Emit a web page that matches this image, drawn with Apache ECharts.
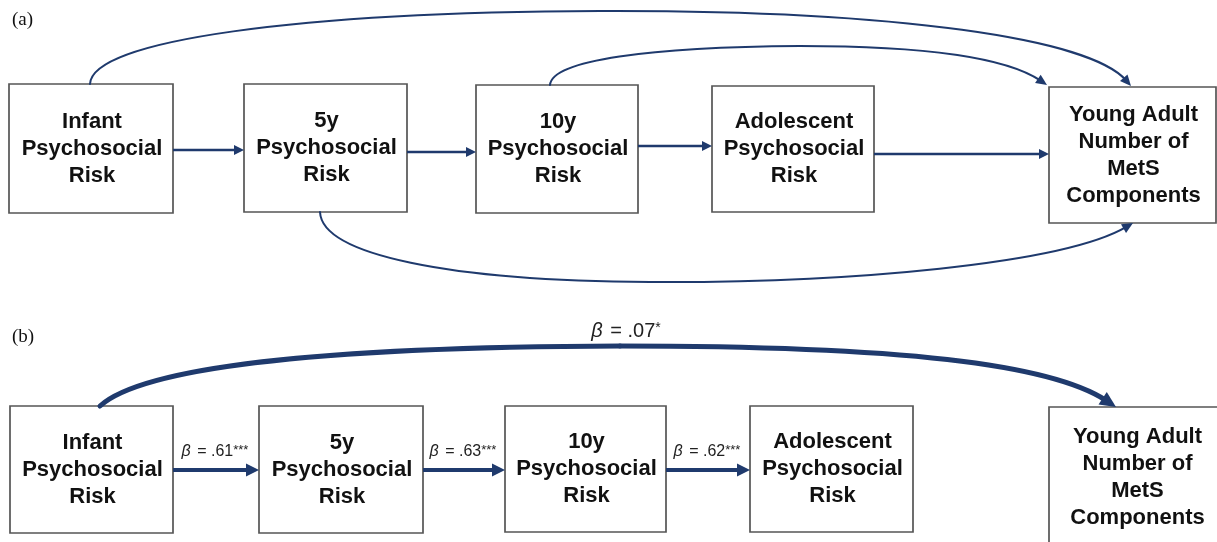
<!DOCTYPE html>
<html>
<head>
<meta charset="utf-8">
<script src="https://cdn.jsdelivr.net/npm/echarts@6/dist/echarts.min.js"></script>
<style>
  html, body { margin: 0; padding: 0; background: #fff; }
  #chart { width: 1217px; height: 542px; }
</style>
</head>
<body>
<div id="chart"></div>
<script>
// ---- data ----
const panelLabels = ['(a)', '(b)'];
const nodeLabels = [
  'Infant\nPsychosocial\nRisk',
  '5y\nPsychosocial\nRisk',
  '10y\nPsychosocial\nRisk',
  'Adolescent\nPsychosocial\nRisk',
  'Young Adult\nNumber of\nMetS\nComponents'
];
const pathBetas = ['.61', '.63', '.62'];
const pathStars = ['***', '***', '***'];
const directBeta = '.07';
const directStars = '*';

// ---- layout (diagram coordinates, 0..1217 x 0..542, y down) ----
const boxesA = [[9, 84, 173, 213], [244, 84, 407, 212], [476, 85, 638, 213], [712, 86, 874, 212], [1049, 87, 1216, 223]];
const boxesB = [[10, 406, 173, 533], [259, 406, 423, 533], [505, 406, 666, 532], [750, 406, 913, 532], [1049, 407, 1224, 547]];
const straightA = [[173, 150, 244, 150], [407, 152, 476, 152], [638, 146, 712, 146], [874, 154, 1049, 154]];
const straightB = [[173, 470, 259, 470], [423, 470, 505, 470], [666, 470, 750, 470]];
// each curve: start, c1, c2, mid, c3, c4, end
const curves = [
  { pts: [[90, 84], [92, 40], [300, 12], [600, 11], [900, 10], [1095, 45], [1131, 86]], width: 2, head: [11, 10] },
  { pts: [[550, 85], [552, 60], [650, 47], [800, 46], [920, 46], [1010, 60], [1047, 85]], width: 2, head: [11, 10] },
  { pts: [[320, 212], [322, 255], [450, 281], [650, 282], [850, 283], [1070, 260], [1133, 223]], width: 2, head: [11, 10] },
  { pts: [[100, 406], [140, 370], [300, 347], [620, 346], [900, 346], [1060, 370], [1116, 407]], width: 5, head: [16, 15] }
];
const panelPos = [[12, 20], [12, 337]];

const lineColor = '#1f3a6d';
const boxColor = '#555';
const sans = '"Liberation Sans", Arial, sans-serif';
const serif = '"Liberation Serif", "Times New Roman", serif';

function arrowHead(tip, from, len, wid) {
  const dx = tip[0] - from[0], dy = tip[1] - from[1];
  const d = Math.hypot(dx, dy) || 1;
  const ux = dx / d, uy = dy / d;
  const bx = tip[0] - ux * len, by = tip[1] - uy * len;
  return {
    back: [-ux * len * 0.7, -uy * len * 0.7],
    points: [tip, [bx - uy * wid / 2, by + ux * wid / 2], [bx + uy * wid / 2, by - ux * wid / 2]]
  };
}

function betaText(b, s) {
  return '{i|β} = ' + b + '{s|' + s + '}';
}

const boxData = boxesA.map((b, i) => b.concat([i])).concat(boxesB.map((b, i) => b.concat([i])));

const straightData = straightA.map(s => s.concat([0, -1]))
  .concat(straightB.map((s, i) => s.concat([1, i])));

const chart = echarts.init(document.getElementById('chart'), null, { renderer: 'canvas' });

chart.setOption({
  animation: false,
  backgroundColor: '#fff',
  grid: { left: 0, right: 0, top: 0, bottom: 0 },
  xAxis: { type: 'value', min: 0, max: 1217, show: false },
  yAxis: { type: 'value', min: 0, max: 542, inverse: true, show: false },
  series: [
    {
      type: 'custom',
      name: 'boxes',
      clip: false,
      encode: { x: [0, 2], y: [1, 3] },
      data: boxData,
      renderItem(params, api) {
        const p0 = api.coord([api.value(0), api.value(1)]);
        const p1 = api.coord([api.value(2), api.value(3)]);
        const label = nodeLabels[api.value(4)];
        return {
          type: 'group',
          children: [
            {
              type: 'rect',
              shape: { x: p0[0], y: p0[1], width: p1[0] - p0[0], height: p1[1] - p0[1] },
              style: { fill: '#fff', stroke: boxColor, lineWidth: 1.7 }
            },
            {
              type: 'text',
              style: {
                text: label,
                x: (p0[0] + p1[0]) / 2 + 1,
                y: (p0[1] + p1[1]) / 2,
                align: 'center',
                verticalAlign: 'middle',
                fontFamily: sans,
                fontWeight: 'bold',
                fontSize: 22,
                lineHeight: 27,
                fill: '#111'
              }
            }
          ]
        };
      }
    },
    {
      type: 'custom',
      name: 'paths',
      clip: false,
      encode: { x: [0, 2], y: [1, 3] },
      data: straightData,
      renderItem(params, api) {
        const a = api.coord([api.value(0), api.value(1)]);
        const b = api.coord([api.value(2), api.value(3)]);
        const thick = api.value(4) === 1;
        const head = thick ? arrowHead(b, a, 13, 13) : arrowHead(b, a, 10, 10);
        const children = [
          {
            type: 'line',
            shape: { x1: a[0], y1: a[1], x2: b[0] + head.back[0], y2: b[1] + head.back[1] },
            style: { stroke: lineColor, lineWidth: thick ? 4 : 2.6 }
          },
          { type: 'polygon', shape: { points: head.points }, style: { fill: lineColor } }
        ];
        const bi = api.value(5);
        if (bi >= 0) {
          children.push({
            type: 'text',
            style: {
              text: betaText(pathBetas[bi], pathStars[bi]),
              x: (a[0] + b[0]) / 2 - 1,
              y: a[1] - 18,
              align: 'center',
              verticalAlign: 'middle',
              fontFamily: sans,
              fontSize: 16,
              fill: '#222',
              rich: {
                i: { fontStyle: 'italic', fontSize: 16, fontFamily: sans, fill: '#222', padding: [0, 2, 0, 0] },
                s: { fontSize: 13, fontFamily: sans, fill: '#222', verticalAlign: 'top', lineHeight: 14 }
              }
            }
          });
        }
        return { type: 'group', children };
      }
    },
    {
      type: 'custom',
      name: 'curves',
      clip: false,
      encode: { x: 0, y: 1 },
      data: curves.map(c => c.pts[0]),
      renderItem(params, api) {
        const c = curves[params.dataIndex];
        const p = c.pts.map(pt => api.coord(pt));
        const head = arrowHead(p[6], p[5], c.head[0], c.head[1]);
        const end = [p[6][0] + head.back[0], p[6][1] + head.back[1]];
        const c4 = [p[5][0] + head.back[0], p[5][1] + head.back[1]];
        const style = { stroke: lineColor, lineWidth: c.width, fill: null, lineCap: 'round' };
        const children = [
          {
            type: 'bezierCurve',
            shape: { x1: p[0][0], y1: p[0][1], cpx1: p[1][0], cpy1: p[1][1], cpx2: p[2][0], cpy2: p[2][1], x2: p[3][0], y2: p[3][1] },
            style
          },
          {
            type: 'bezierCurve',
            shape: { x1: p[3][0], y1: p[3][1], cpx1: p[4][0], cpy1: p[4][1], cpx2: c4[0], cpy2: c4[1], x2: end[0], y2: end[1] },
            style
          },
          { type: 'polygon', shape: { points: head.points }, style: { fill: lineColor } }
        ];
        if (params.dataIndex === 3) {
          children.push({
            type: 'text',
            style: {
              text: betaText(directBeta, directStars),
              x: p[3][0] + 6,
              y: p[3][1] - 15,
              align: 'center',
              verticalAlign: 'middle',
              fontFamily: sans,
              fontSize: 20,
              fill: '#222',
              rich: {
                i: { fontStyle: 'italic', fontSize: 20, fontFamily: sans, fill: '#222', padding: [0, 2, 0, 0] },
                s: { fontSize: 14, fontFamily: sans, fill: '#222', verticalAlign: 'top', lineHeight: 16 }
              }
            }
          });
        }
        return { type: 'group', children };
      }
    },
    {
      type: 'custom',
      name: 'panels',
      clip: false,
      encode: { x: 0, y: 1 },
      data: panelPos,
      renderItem(params, api) {
        const p = api.coord([api.value(0), api.value(1)]);
        return {
          type: 'text',
          style: {
            text: panelLabels[params.dataIndex],
            x: p[0],
            y: p[1],
            align: 'left',
            verticalAlign: 'middle',
            fontFamily: serif,
            fontSize: 19,
            fill: '#111'
          }
        };
      }
    }
  ]
});
</script>
</body>
</html>
